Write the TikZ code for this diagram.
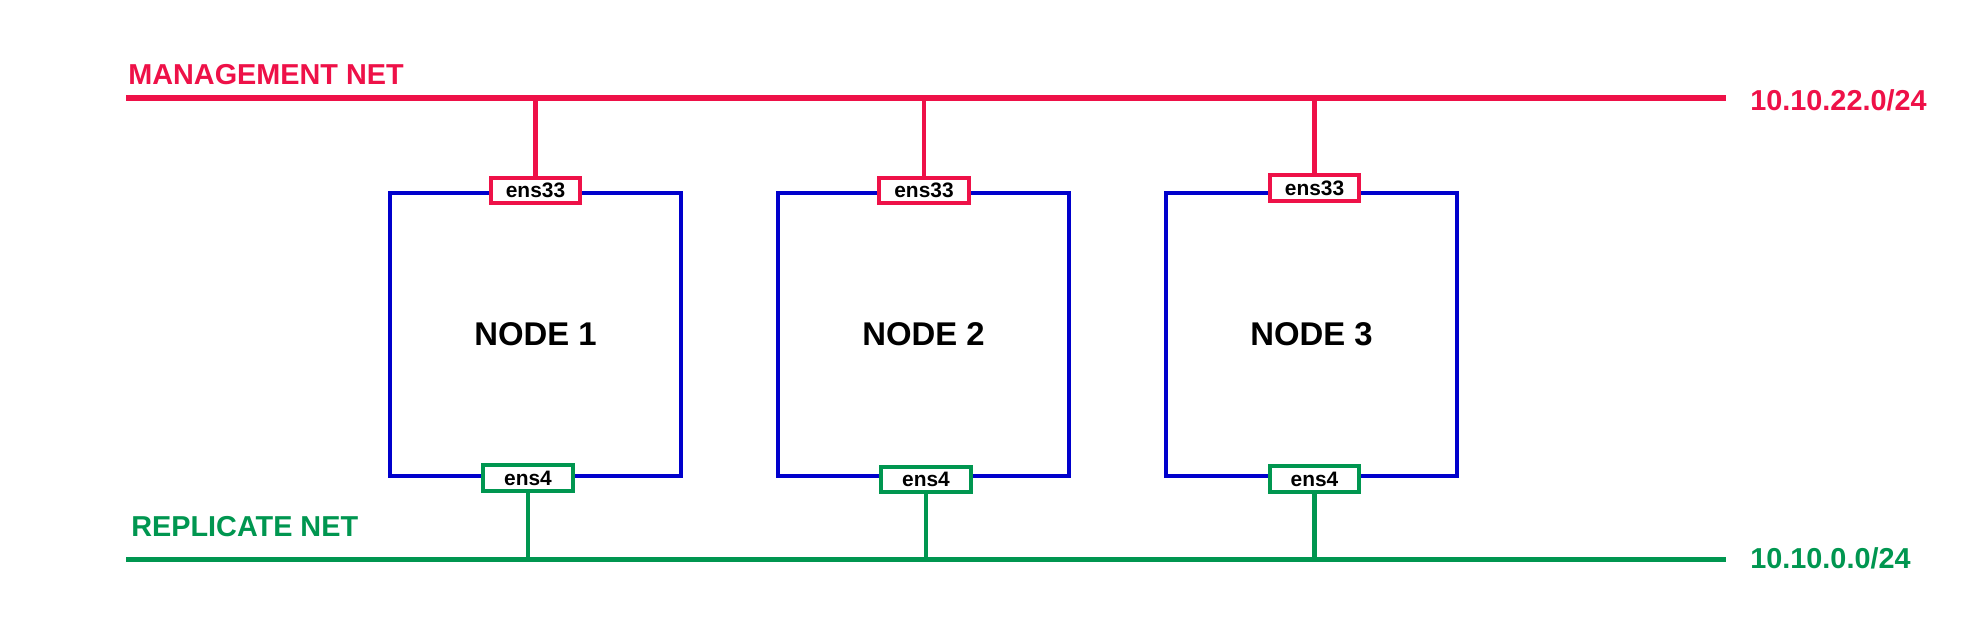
\documentclass[tikz,border=0pt]{standalone}
\usepackage{fontspec}
\setmainfont{Liberation Sans}
\usepackage{tikz}
\usetikzlibrary{calc}

\definecolor{mgmtred}{HTML}{EE1148}
\definecolor{replgreen}{HTML}{009650}
\definecolor{hostblue}{HTML}{0000CC}

\begin{document}
\begin{tikzpicture}[x=0.02cm,y=-0.02cm,
	host/.style={draw=hostblue,line width=2.3pt,minimum width=5.82cm,minimum height=5.66cm,inner sep=0pt,font=\bfseries\fontsize{18.7}{20}\selectfont},
	nic/.style={fill=white,line width=2.3pt,minimum width=1.79cm,minimum height=0.51cm,inner sep=0pt,font=\bfseries\fontsize{11.9}{13}\selectfont},
	netlabel/.style={anchor=base west,inner sep=0pt,font=\bfseries\fontsize{16.4}{18}\selectfont}]
	\useasboundingbox (0,0) rectangle (1983,628);

	% networks
	\coordinate (mgmtW) at (126,98);
	\coordinate (mgmtE) at (1726,98);
	\coordinate (replW) at (126,559.5);
	\coordinate (replE) at (1726,559.5);
	\draw[mgmtred,line width=3.1pt] (mgmtW) -- (mgmtE);
	\draw[replgreen,line width=3.1pt] (replW) -- (replE);
	\draw (128,85) node (mgmtname) [netlabel,text=mgmtred] {MANAGEMENT NET};
	\draw (1750,111) node (mgmtip) [netlabel,text=mgmtred] {10.10.22.0/24};
	\draw (131,536) node (replname) [netlabel,text=replgreen] {REPLICATE NET};
	\draw (1750,568) node (replip) [netlabel,text=replgreen] {10.10.0.0/24};

	% hosts
	\draw (535.5,334.5) node (node1) [host] {NODE 1};
	\draw (923.5,334.5) node (node2) [host] {NODE 2};
	\draw (1311.5,334.5) node (node3) [host] {NODE 3};

	% interfaces
	\draw (535.5,190.5) node (mgmt1) [nic,draw=mgmtred] {ens33};
	\draw (924,190.5) node (mgmt2) [nic,draw=mgmtred] {ens33};
	\draw (1314.5,188) node (mgmt3) [nic,draw=mgmtred] {ens33};
	\draw (528,478) node (repl1) [nic,draw=replgreen] {ens4};
	\draw (926,479.5) node (repl2) [nic,draw=replgreen] {ens4};
	\draw (1314.5,479) node (repl3) [nic,draw=replgreen] {ens4};

	% links
	\draw[mgmtred,line width=2.8pt] (mgmt1.north) -- (mgmt1.north |- mgmtW);
	\draw[mgmtred,line width=2.8pt] (mgmt2.north) -- (mgmt2.north |- mgmtW);
	\draw[mgmtred,line width=2.8pt] (mgmt3.north) -- (mgmt3.north |- mgmtW);
	\draw[replgreen,line width=2.8pt] (repl1.south) -- (repl1.south |- replW);
	\draw[replgreen,line width=2.8pt] (repl2.south) -- (repl2.south |- replW);
	\draw[replgreen,line width=2.8pt] (repl3.south) -- (repl3.south |- replW);
\end{tikzpicture}
\end{document}
